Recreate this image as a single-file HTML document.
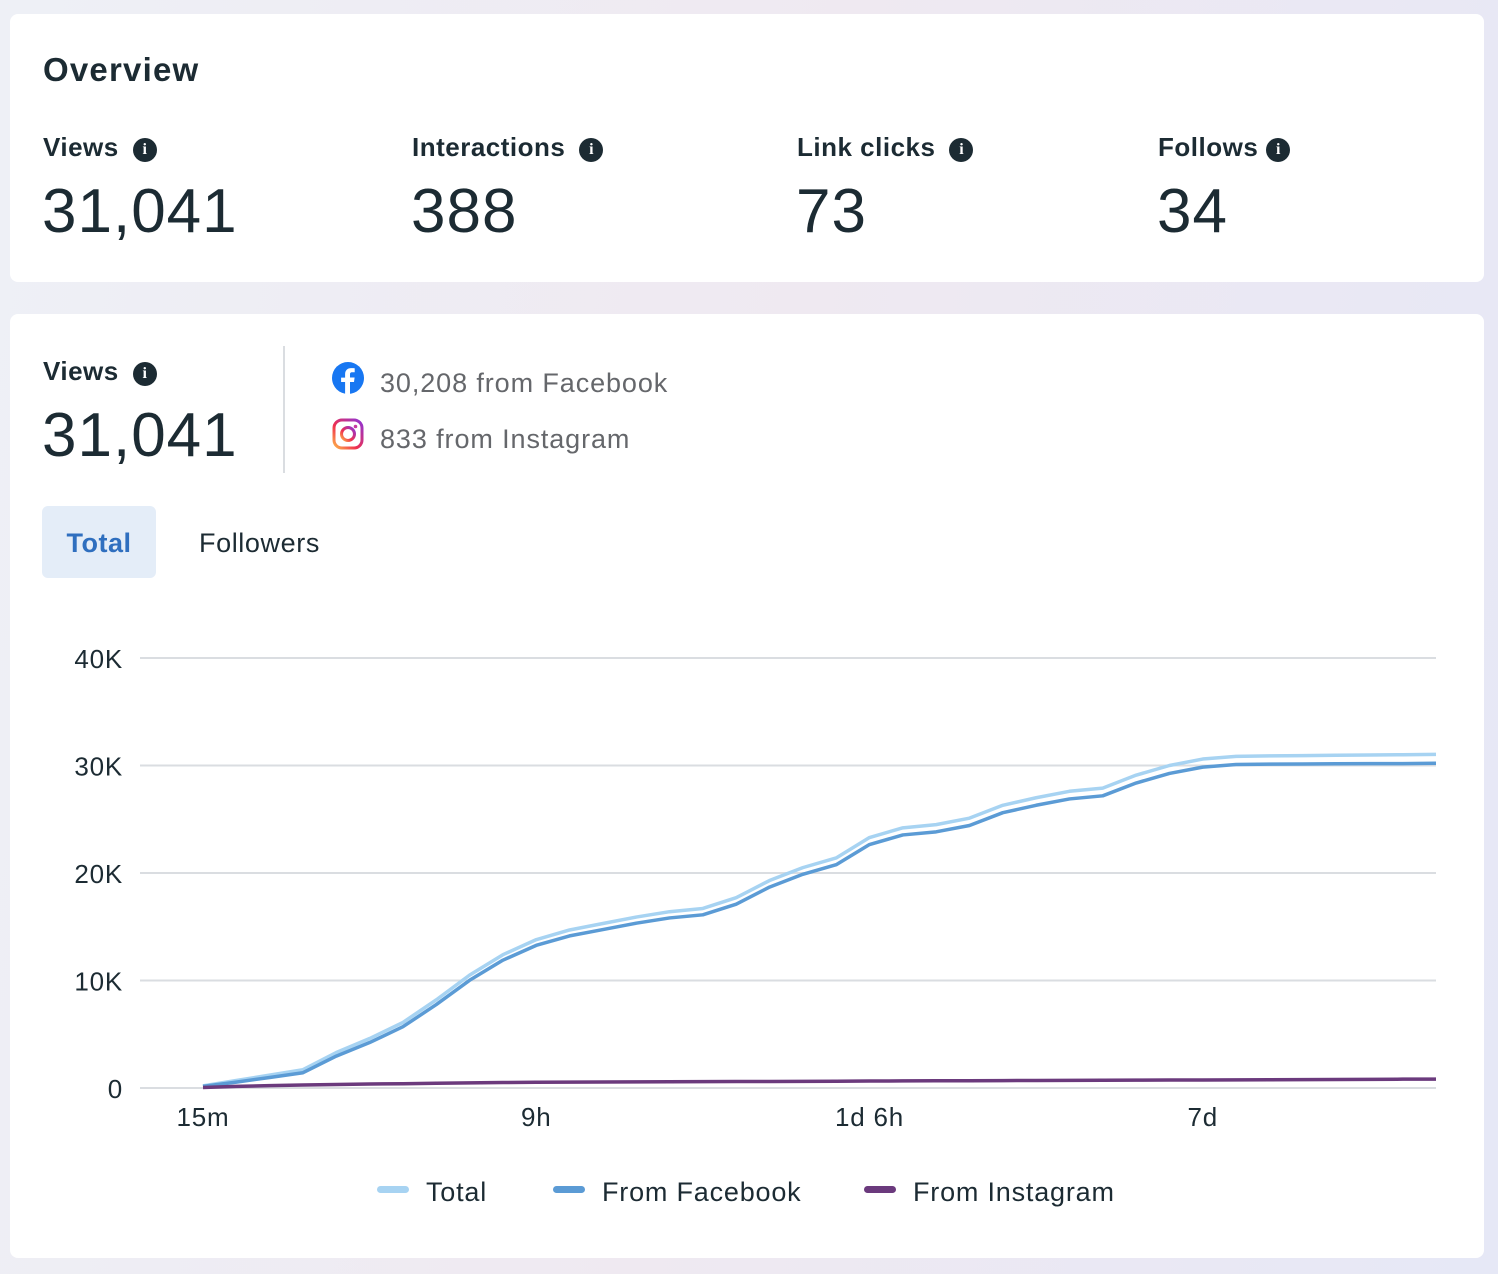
<!DOCTYPE html>
<html><head><meta charset="utf-8"><style>
*{box-sizing:border-box;margin:0;padding:0}
body{width:1498px;height:1274px;overflow:hidden;font-family:"Liberation Sans",sans-serif;color:#1c2b33;background:linear-gradient(100deg,#eef0f6,#efe9f1 50%,#e6e8f6);position:relative}
.card{position:absolute;left:10px;width:1474px;background:#fff;border-radius:8px}
.lbl{position:absolute;font-size:26px;font-weight:bold;color:#1c2b33;letter-spacing:0.5px}
.big{position:absolute;font-size:62px;color:#1c2b33;letter-spacing:1px}
.info{display:inline-block;width:24px;height:24px;border-radius:50%;background:#1c2b33;color:#fff;font-size:16px;text-align:center;line-height:24px;font-family:"Liberation Serif",serif;font-weight:bold;vertical-align:2px;margin-left:14px;letter-spacing:0}
.src{position:absolute;font-size:27px;color:#65676b;letter-spacing:0.9px}
</style></head><body>
<div class="card" style="top:14px;height:268px">
 <div class="lbl" style="left:33px;top:37px;font-size:33px;letter-spacing:1.2px">Overview</div>
 <div class="lbl" style="left:33px;top:118px">Views<span class="info">i</span></div>
 <div class="big" style="left:32px;top:162px">31,041</div>
 <div class="lbl" style="left:402px;top:118px">Interactions<span class="info">i</span></div>
 <div class="big" style="left:401px;top:162px">388</div>
 <div class="lbl" style="left:787px;top:118px">Link clicks<span class="info">i</span></div>
 <div class="big" style="left:786px;top:162px">73</div>
 <div class="lbl" style="left:1148px;top:118px">Follows<span class="info" style="margin-left:8px">i</span></div>
 <div class="big" style="left:1147px;top:162px">34</div>
</div>
<div class="card" style="top:314px;height:944px">
 <div class="lbl" style="left:33px;top:42px">Views<span class="info">i</span></div>
 <div class="big" style="left:32px;top:86px">31,041</div>
 <div style="position:absolute;left:273px;top:32px;width:2px;height:127px;background:#dadde1"></div>
 <svg style="position:absolute;left:322px;top:48px" width="32" height="32" viewBox="0 0 32 32"><circle cx="16" cy="16" r="16" fill="#1877f2"/><path d="M18 32V20h4l.6-4.5H18v-3c0-1.3.4-2.2 2.2-2.2h2.5V6.3c-.4-.1-1.9-.2-3.6-.2-3.6 0-6 2.2-6 6.2v3.3h-4V20h4v12z" fill="#fff"/></svg>
 <div class="src" style="left:370px;top:54px">30,208 from Facebook</div>
 <svg style="position:absolute;left:322px;top:104px" width="32" height="32" viewBox="0 0 32 32"><defs><linearGradient id="ig" x1="0" y1="1" x2="1" y2="0"><stop offset="0" stop-color="#fdb44a"/><stop offset=".4" stop-color="#f0304e"/><stop offset="1" stop-color="#8f34d6"/></linearGradient></defs><rect x="2" y="2" width="28" height="28" rx="8" fill="none" stroke="url(#ig)" stroke-width="3"/><circle cx="16" cy="16" r="6.5" fill="none" stroke="url(#ig)" stroke-width="3"/><circle cx="23.5" cy="8.5" r="1.8" fill="#c53aa0"/></svg>
 <div class="src" style="left:370px;top:110px">833 from Instagram</div>
 <div style="position:absolute;left:32px;top:192px;width:114px;height:72px;background:#e4edf8;border-radius:6px;color:#2f6fbf;font-size:27px;font-weight:bold;text-align:center;line-height:74px;letter-spacing:0.5px">Total</div>
 <div style="position:absolute;left:189px;top:192px;height:72px;font-size:27px;line-height:74px;color:#1c2b33;letter-spacing:0.6px">Followers</div>
</div>
<svg id="chart" style="position:absolute;left:0;top:0" width="1498" height="1274"></svg>
<script>
const xLabels=["15m","9h","1d 6h","7d"];
const xLabelIdx=[0,10,20,30];
const yTicks=[0,10000,20000,30000,40000];
const yTickLabels=["0","10K","20K","30K","40K"];
const total=[0.2,0.7,1.2,1.7,3.3,4.6,6.1,8.2,10.5,12.4,13.8,14.7,15.3,15.9,16.4,16.7,17.7,19.3,20.5,21.4,23.3,24.2,24.5,25.1,26.3,27.0,27.6,27.9,29.1,30.0,30.6,30.85,30.9,30.92,30.95,30.98,31.0,31.04];
const instagram=[0.05,0.15,0.22,0.28,0.33,0.37,0.4,0.44,0.48,0.51,0.53,0.55,0.56,0.57,0.58,0.59,0.6,0.61,0.62,0.63,0.65,0.66,0.67,0.68,0.69,0.7,0.71,0.72,0.73,0.74,0.75,0.76,0.77,0.78,0.79,0.8,0.82,0.83];
const facebook=total.map((t,i)=>+(t-instagram[i]).toFixed(2));
const svg=document.getElementById('chart');const NS='http://www.w3.org/2000/svg';
const x0=203,x1=1436,y0=1088,y1=658;
const X=i=>x0+(x1-x0)*i/(total.length-1);
const Y=v=>y0-(y0-y1)*v/40000;
function mk(t,a){const e=document.createElementNS(NS,t);for(const k in a)e.setAttribute(k,a[k]);svg.appendChild(e);return e;}
yTicks.forEach((v,i)=>{
 const l=mk('line',{x1:140,x2:1436,y1:Y(v),y2:Y(v),stroke:'#dadde1','stroke-width':2});
 
 
 const t=mk('text',{x:123,y:Y(v)+10,'text-anchor':'end','font-size':26,fill:'#1c2b33','font-family':'Liberation Sans','letter-spacing':0.8});t.textContent=yTickLabels[i];
 
 
});
xLabels.forEach((s,i)=>{
 const t=mk('text',{x:X(xLabelIdx[i]),y:1126,'text-anchor':'middle','font-size':26,fill:'#1c2b33','font-family':'Liberation Sans','letter-spacing':0.8});t.textContent=s;
 
 
});
function line(arr,col,name){
 const p=mk('polyline',{points:arr.map((v,i)=>X(i)+','+Y(v*1000)).join(' '),fill:'none',stroke:col,'stroke-width':3.5,'stroke-linejoin':'round'});
 
 
}
line(total,'#a7d3f2','total-line');
line(facebook,'#5b9bd5','facebook-line');
line(instagram,'#6b3a7d','instagram-line');
const leg=[["Total","#a7d3f2",377],["From Facebook","#5b9bd5",553],["From Instagram","#6b3a7d",864]];
leg.forEach(l=>{
 const r=mk('rect',{x:l[2],y:1186,width:32,height:7,rx:3.5,fill:l[1]});
 
 
 const t=mk('text',{x:l[2]+49,y:1201,'font-size':27,fill:'#1c2b33','font-family':'Liberation Sans','letter-spacing':0.8});t.textContent=l[0];
 
 
});
</script>
</body></html>
